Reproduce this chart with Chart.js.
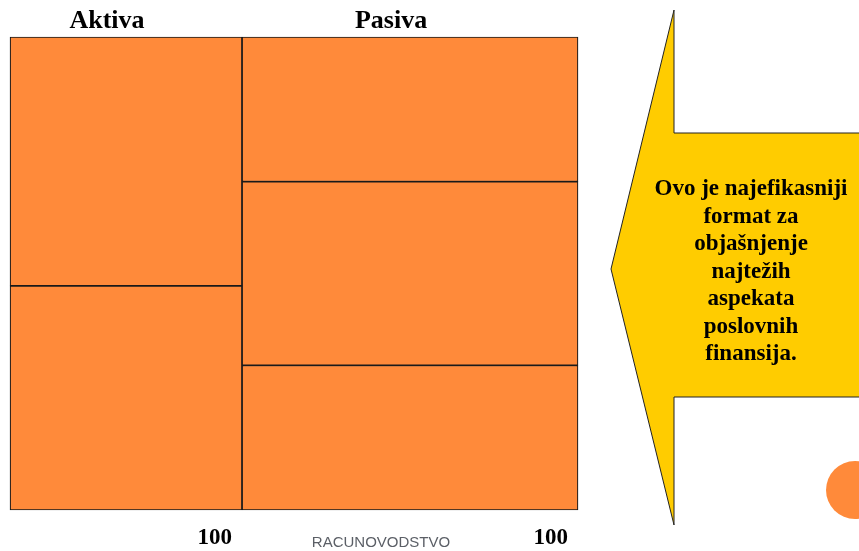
<!DOCTYPE html>
<html>
<head>
<meta charset="utf-8">
<title>Aktiva / Pasiva</title>
<script src="https://cdn.jsdelivr.net/npm/chart.js@4.4.1/dist/chart.umd.min.js"></script>
<style>
  html, body { margin: 0; padding: 0; background: #ffffff; }
  #wrap { width: 859px; height: 551px; position: relative; }
</style>
</head>
<body>
<div id="wrap"><canvas id="bilans"></canvas></div>
<script>
// Podaci (odozdo prema gore)
const categories = ['Aktiva', 'Pasiva'];
const aktivaValues = [47.4, 52.6];
const pasivaValues = [30.6, 38.8, 30.6];
const totalLabels = ['100', '100'];
const footerText = 'RACUNOVODSTVO';
const arrowLines = ['Ovo je najefikasniji', 'format za', 'objašnjenje', 'najtežih', 'aspekata', 'poslovnih', 'finansija.'];

const orange = '#FF8A3A';

function makeSets(values, xIndex, thickness) {
    return values.map(function(v, i) {
        return {
            label: categories[xIndex] + ' ' + (i + 1),
            data: [{ x: xIndex, y: v }],
            backgroundColor: orange,
            borderColor: '#1a1a1a',
            borderWidth: 1.2,
            borderSkipped: false,
            barThickness: thickness,
            clip: false
        };
    });
}

// Crtanje naslova, oznaka i strelice
const decorPlugin = {
    id: 'decor',
    afterDraw: function(chart) {
        const c = chart.ctx;
        const x = chart.scales.x;
        c.save();

        // naslovi iznad stubova
        c.fillStyle = '#000';
        c.font = 'bold 26px "Liberation Serif", "Times New Roman", serif';
        c.textAlign = 'center';
        c.textBaseline = 'alphabetic';
        categories.forEach(function(cat, i) {
            c.fillText(cat, x.getPixelForValue(i) - 19, 28);
        });

        // 100 ispod stubova
        c.font = 'bold 23px "Liberation Serif", "Times New Roman", serif';
        c.textAlign = 'right';
        const firstA = chart.getDatasetMeta(0).data[0];
        const firstP = chart.getDatasetMeta(aktivaValues.length).data[0];
        [firstA, firstP].forEach(function(bar, i) {
            c.fillText(totalLabels[i], bar.x + bar.width / 2 - 10, 544);
        });

        // podnozje
        c.font = '15px "Liberation Sans", Arial, sans-serif';
        c.fillStyle = '#5b5f66';
        c.textAlign = 'center';
        c.fillText(footerText, 381, 547);

        // zuta strelica
        c.beginPath();
        c.moveTo(611, 269);
        c.lineTo(674, 10);
        c.lineTo(674, 133);
        c.lineTo(862, 133);
        c.lineTo(862, 397);
        c.lineTo(674, 397);
        c.lineTo(674, 525);
        c.closePath();
        c.fillStyle = '#FFCC00';
        c.fill();
        c.strokeStyle = '#222';
        c.lineWidth = 1;
        c.stroke();

        c.fillStyle = '#000';
        c.font = 'bold 23px "Liberation Serif", "Times New Roman", serif';
        c.textAlign = 'center';
        arrowLines.forEach(function(line, i) {
            c.fillText(line, 751, 195 + i * 27.5);
        });

        // narandzasti krug
        c.beginPath();
        c.arc(855, 490, 29, 0, Math.PI * 2);
        c.fillStyle = orange;
        c.fill();

        c.restore();
    }
};

const ctx = document.getElementById('bilans').getContext('2d');
const chart = new Chart(ctx, {
    type: 'bar',
    data: {
        datasets: makeSets(aktivaValues, 0, 232).concat(makeSets(pasivaValues, 1, 336))
    },
    options: {
        responsive: true,
        maintainAspectRatio: false,
        animation: false,
        layout: { padding: { top: 37, bottom: 41, left: 10, right: 281 } },
        plugins: {
            legend: { display: false },
            tooltip: { enabled: false }
        },
        scales: {
            x: {
                type: 'linear',
                min: -0.4085,
                max: 1.5915,
                offset: false,
                stacked: true,
                display: false
            },
            y: {
                min: 0,
                max: 100,
                stacked: true,
                display: false
            }
        }
    },
    plugins: [decorPlugin]
});
</script>
</body>
</html>
